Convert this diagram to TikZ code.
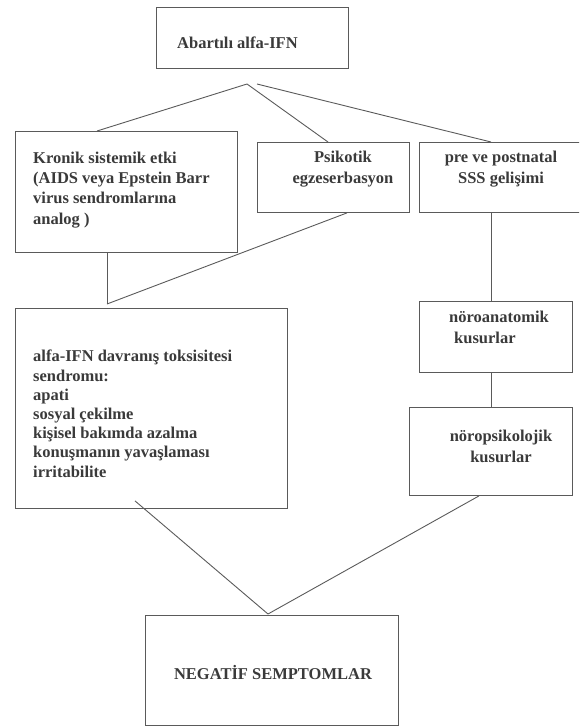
\documentclass[tikz,border=0pt]{standalone}
\usepackage{fontspec}
\setmainfont{Liberation Serif}
\definecolor{cizgi}{HTML}{5A5A5A}
\definecolor{yazirengi}{HTML}{3A3A3A}
\newcommand\metin{\fontsize{16.5}{20.2}\selectfont\bfseries}
\begin{document}
\begin{tikzpicture}[x=1pt, y=-1pt,
    kutu/.style={draw=cizgi, line width=0.9pt, anchor=north west, inner sep=0pt},
    yazi/.style={font=\metin, text=yazirengi, inner sep=0pt},
    bag/.style={draw=cizgi, line width=0.9pt},
  ]
\useasboundingbox (0,0) rectangle (579,726);
\clip (0,0) rectangle (579,726);

\node[kutu, minimum width=192pt, minimum height=61pt] (abarti) at (156,7) {};
\node[kutu, minimum width=222pt, minimum height=121pt] (kronik) at (15,131) {};
\node[kutu, minimum width=152pt, minimum height=70pt] (psikotik) at (257,142) {};
\node[kutu, minimum width=180pt, minimum height=70pt] (pre) at (419,142) {};
\node[kutu, minimum width=272pt, minimum height=200pt] (alfa) at (15,308) {};
\node[kutu, minimum width=153pt, minimum height=71pt] (noroanat) at (419,301) {};
\node[kutu, minimum width=163pt, minimum height=88pt] (noropsik) at (409,407) {};
\node[kutu, minimum width=253pt, minimum height=110pt] (negatif) at (145,615) {};

% cok satirli yazilarda base = son satir
\node[yazi, anchor=base west] (abarti-y) at (177,48) {Abartılı alfa-IFN};
\node[yazi, anchor=base west, align=left] (kronik-y) at (33,224)
  {Kronik sistemik etki\\(AIDS veya Epstein Barr\\virus sendromlarına\\analog )};
\node[yazi, anchor=base, align=center] (psikotik-y) at (343,183) {Psikotik\\egzeserbasyon};
\node[yazi, anchor=base, align=center] (pre-y) at (501,183) {pre ve postnatal\\SSS gelişimi};
\node[yazi, anchor=base west, align=left, font=\metin\fontsize{16.5}{19.2}\selectfont] (alfa-y) at (33,477)
  {alfa-IFN davranış toksisitesi\\sendromu:\\apati\\sosyal çekilme\\kişisel bakımda azalma\\konuşmanın yavaşlaması\\irritabilite};
\node[yazi, anchor=base west, align=left] (noroanat-y) at (449,343) {nöroanatomik\\\hspace*{5pt}kusurlar};
\node[yazi, anchor=base, align=center] (noropsik-y) at (501,462) {nöropsikolojik\\kusurlar};
\node[yazi, anchor=base] (negatif-y) at (273,679) {NEGATİF SEMPTOMLAR};

% dallanma noktalari
\coordinate (tepe) at (247,84);
\coordinate (tepe2) at (257,84);
\coordinate (birlesme) at (107,304);
\coordinate (dip) at (268,614);

\draw[bag] (tepe) -- ([xshift=82pt]kronik.north west);
\draw[bag] (tepe) -- ([xshift=71pt]psikotik.north west);
\draw[bag] (tepe2) -- ([xshift=72pt]pre.north west);
\draw[bag] ([xshift=92pt]kronik.south west) -- (birlesme);
\draw[bag] ([xshift=90pt]psikotik.south west) -- (birlesme);
\draw[bag] ([xshift=72pt]pre.south west) -- ([xshift=72pt]noroanat.north west);
\draw[bag] ([xshift=72pt]noroanat.south west) -- ([xshift=82pt]noropsik.north west);
\draw[bag] ([xshift=120pt,yshift=8pt]alfa.south west) -- (dip);
\draw[bag] ([xshift=70pt]noropsik.south west) -- (dip);

\end{tikzpicture}
\end{document}
